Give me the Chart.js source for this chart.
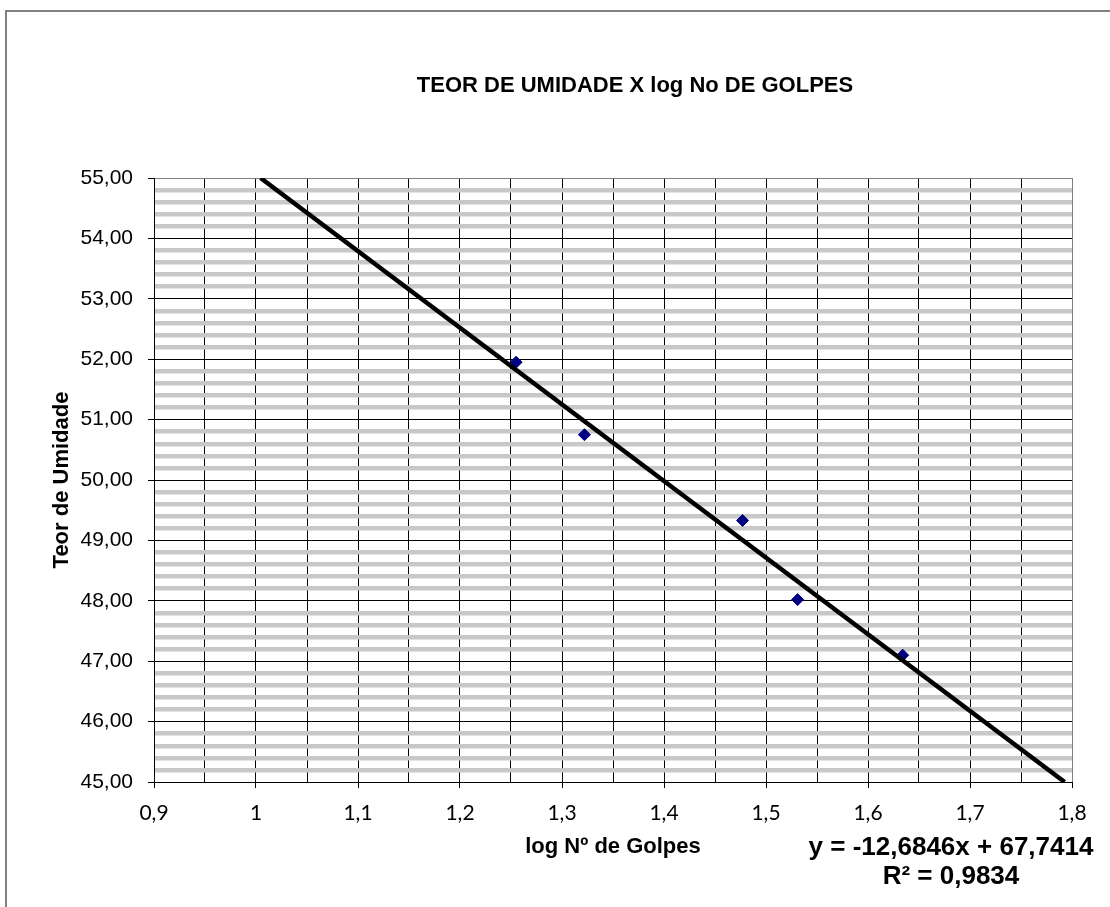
<!DOCTYPE html>
<html>
<head>
<meta charset="utf-8">
<script src="https://cdn.jsdelivr.net/npm/chart.js@4"></script>
<style>
  html, body { margin: 0; padding: 0; background: #fff; }
  #wrap { position: relative; width: 1110px; height: 907px; }
</style>
</head>
<body>
<div id="wrap"><canvas id="chart" width="1110" height="907"></canvas></div>
<script>
// Teor de umidade x log Nº de golpes (limite de liquidez)

const TITLE = "TEOR DE UMIDADE X log No DE GOLPES";
const X_TITLE = "log Nº de Golpes";
const Y_TITLE = "Teor de Umidade";
const EQUATION = ["y = -12,6846x + 67,7414", "R² = 0,9834"];

// pontos medidos
const logGolpes = [1.255, 1.322, 1.477, 1.531, 1.634];
const umidade   = [51.95, 50.75, 49.33, 48.02, 47.10];

// linha de tendência (extremos)
const trendX = [1.0045, 1.7928];
const trendY = [55.0, 45.0];

const xTickValues = [0.9, 1.0, 1.1, 1.2, 1.3, 1.4, 1.5, 1.6, 1.7, 1.8];
const xTickLabels = ["0,9", "1", "1,1", "1,2", "1,3", "1,4", "1,5", "1,6", "1,7", "1,8"];
const yTickValues = [45, 46, 47, 48, 49, 50, 51, 52, 53, 54, 55];
const yTickLabels = ["45,00", "46,00", "47,00", "48,00", "49,00", "50,00", "51,00", "52,00", "53,00", "54,00", "55,00"];

const isWhole = (v, step) => Math.abs(v / step - Math.round(v / step)) < 1e-6;

// moldura externa + título + equação
const decor = {
  id: "decor",
  beforeDraw(chart) {
    const ctx = chart.ctx;
    ctx.save();
    ctx.fillStyle = "#fff";
    ctx.fillRect(0, 0, chart.width, chart.height);
    ctx.strokeStyle = "#808080";
    ctx.lineWidth = 2;
    ctx.beginPath();
    ctx.moveTo(6, chart.height);
    ctx.lineTo(6, 11);
    ctx.lineTo(chart.width, 11);
    ctx.stroke();
    ctx.restore();
  },
  afterDraw(chart) {
    const ctx = chart.ctx;
    ctx.save();
    ctx.fillStyle = "#000";
    ctx.textAlign = "center";
    ctx.textBaseline = "alphabetic";
    ctx.font = "bold 22px 'Liberation Sans', Arial, sans-serif";
    ctx.fillText(TITLE, 635, 92);
    ctx.font = "bold 26px 'Liberation Sans', Arial, sans-serif";
    ctx.fillText(EQUATION[0], 951, 855);
    ctx.fillText(EQUATION[1], 951, 884);
    ctx.restore();
  },
};

new Chart(document.getElementById("chart"), {
  type: "scatter",
  data: {
    datasets: [
      {
        label: "Tendência",
        data: trendX.map((x, i) => ({ x, y: trendY[i] })),
        showLine: true,
        borderColor: "#000",
        borderWidth: 4.5,
        pointRadius: 0,
        fill: false,
      },
      {
        label: "Teor de Umidade",
        data: logGolpes.map((x, i) => ({ x, y: umidade[i] })),
        pointStyle: "rectRot",
        pointRadius: 6,
        backgroundColor: "#000080",
        borderColor: "#000080",
        borderWidth: 1,
      },
    ],
  },
  options: {
    responsive: false,
    animation: false,
    layout: { padding: { top: 178, right: 38, bottom: 0, left: 0 } },
    plugins: { legend: { display: false }, tooltip: { enabled: false } },
    scales: {
      x: {
        type: "linear",
        min: xTickValues[0],
        max: xTickValues[xTickValues.length - 1],
        afterFit: s => { s.height = 125; },
        ticks: {
          stepSize: 0.05,
          autoSkip: false,
          maxRotation: 0,
          padding: 13,
          color: "#000",
          font: { family: "Lato", size: 21 },
          callback: v => {
            const i = xTickValues.findIndex(t => Math.abs(t - v) < 1e-6);
            return i >= 0 ? xTickLabels[i] : "";
          },
        },
        grid: {
          color: c => (Math.abs(c.tick.value - 1.8) < 1e-6 ? "#808080" : "#000"),
          lineWidth: 1,
          tickLength: 6,
          tickColor: c => (isWhole(c.tick.value, 0.1) ? "#000" : "rgba(0,0,0,0)"),
        },
        border: { color: "#000", width: 1 },
        title: {
          display: true,
          text: X_TITLE,
          color: "#000",
          font: { family: "'Liberation Sans', Arial", size: 22, weight: "bold" },
          padding: { top: 0, bottom: 47 },
        },
      },
      y: {
        type: "linear",
        min: yTickValues[0],
        max: yTickValues[yTickValues.length - 1],
        afterFit: s => { s.width = 154; },
        ticks: {
          stepSize: 1,
          padding: 15,
          color: "#000",
          font: { family: "'Liberation Sans', Arial", size: 21 },
          callback: v => {
            const i = yTickValues.indexOf(Math.round(v));
            return i >= 0 ? yTickLabels[i] : "";
          },
        },
        grid: {
          color: c => (c.tick.value === 55 ? "#808080" : "#000"),
          lineWidth: 1,
          tickLength: 6,
          tickColor: "#000",
        },
        border: { color: "#000", width: 1 },
        title: {
          display: true,
          text: Y_TITLE,
          color: "#000",
          font: { family: "'Liberation Sans', Arial", size: 22, weight: "bold" },
          padding: { top: 49, bottom: 0 },
        },
      },
      // listras cinzas do fundo
      stripes: {
        type: "linear",
        position: "right",
        z: -1,
        min: yTickValues[0],
        max: yTickValues[yTickValues.length - 1],
        afterFit: s => { s.width = 0; },
        ticks: { display: false, stepSize: 0.2 },
        grid: {
          drawTicks: false,
          lineWidth: 4.5,
          color: c => (isWhole(c.tick.value, 1) ? "rgba(0,0,0,0)" : "#c8c8c8"),
        },
        border: { display: false },
      },
    },
  },
  plugins: [decor],
});
</script>
</body>
</html>
